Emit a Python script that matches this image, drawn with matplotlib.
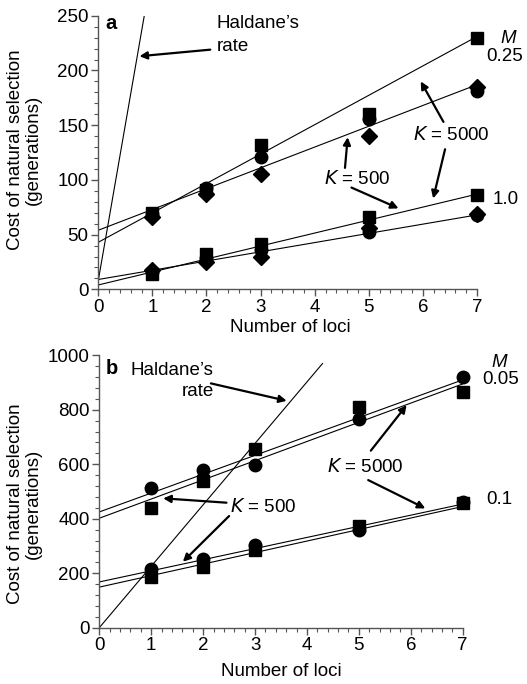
import matplotlib
matplotlib.use("Agg")
import matplotlib.pyplot as plt
from matplotlib.ticker import MultipleLocator

plt.rcParams['font.family'] = ['Liberation Sans', 'DejaVu Sans']

# ---------------- data ----------------
loci = [1, 2, 3, 5, 7]

# panel a (M = 0.25 upper group, M = 1.0 lower group)
a_sq_025 = [70, 91, 132, 160, 230]
a_ci_025 = [69, 93, 121, 156, 181]
a_di_025 = [66, 87, 105, 140, 185]
a_sq_10 = [14, 32, 41, 66, 86]
a_ci_10 = [16, 29, 36, 52, 68]
a_di_10 = [18, 25, 30, 56, 69]

# fitted lines, read at x = 0 and x = 7
line_x = [0, 7]
a_fit_025_hi = [43, 231]
a_fit_025_lo = [54, 187]
a_fit_10_hi = [4, 87]
a_fit_10_lo = [9, 68]
a_haldane_x = [0, 0.85]
a_haldane_y = [8, 250]

# panel b (M = 0.05 upper group, M = 0.1 lower group)
b_ci_005 = [512, 580, 597, 767, 921]
b_sq_005 = [438, 540, 655, 811, 866]
b_ci_01 = [215, 252, 304, 359, 460]
b_sq_01 = [187, 222, 284, 372, 459]

b_fit_005_hi = [425, 910]
b_fit_005_lo = [402, 895]
b_fit_01_hi = [168, 454]
b_fit_01_lo = [149, 445]
b_haldane_x = [0, 4.3]
b_haldane_y = [0, 970]

# ---------------- figure ----------------
fig = plt.figure(figsize=(5.27, 6.84), dpi=100)
ax_a = fig.add_axes([0.1865, 0.577, 0.7186, 0.400])
ax_b = fig.add_axes([0.1884, 0.0823, 0.6896, 0.3982])

FS = 13.5
lw_line = 0.8
arrow = dict(arrowstyle='-|>', lw=1.6, color='black', mutation_scale=11, shrinkA=0, shrinkB=0)


def style(ax, ymax, ymajor, yminor, ylab_xy, xlab_xy):
    ax.set_xlim(0, 7)
    ax.set_ylim(0, ymax)
    ax.xaxis.set_major_locator(MultipleLocator(1))
    ax.xaxis.set_minor_locator(MultipleLocator(0.2))
    ax.yaxis.set_major_locator(MultipleLocator(ymajor))
    ax.yaxis.set_minor_locator(MultipleLocator(yminor))
    for s in ['top', 'right']:
        ax.spines[s].set_visible(False)
    for s in ['left', 'bottom']:
        ax.spines[s].set_linewidth(1.0)
        ax.spines[s].set_color('#555555')
    ax.tick_params(which='major', direction='out', length=5, width=1.0, labelsize=FS, color='#555555', pad=2)
    ax.tick_params(which='minor', direction='out', length=3, width=0.8, color='#555555')
    ax.set_xlabel('Number of loci', fontsize=FS)
    ax.set_ylabel('Cost of natural selection\n(generations)', fontsize=FS, linespacing=1.05)
    ax.yaxis.set_label_coords(*ylab_xy)
    ax.xaxis.set_label_coords(*xlab_xy)
    ax.xaxis.label.set_va('center')
    ax.yaxis.label.set_va('center')


ms = dict(color='black', linestyle='none', clip_on=False, zorder=3)

# ---- panel a ----
style(ax_a, 250, 50, 10, (-0.196, 0.51), (0.506, -0.138))
for yy in [a_fit_025_hi, a_fit_025_lo, a_fit_10_hi, a_fit_10_lo]:
    ax_a.plot(line_x, yy, color='black', lw=lw_line, zorder=2)
ax_a.plot(a_haldane_x, a_haldane_y, color='black', lw=lw_line, zorder=2)
ax_a.plot(loci, a_ci_025, marker='o', markersize=9, **ms)
ax_a.plot(loci, a_di_025, marker='D', markersize=8, **ms)
ax_a.plot(loci, a_sq_025, marker='s', markersize=8.5, **ms)
ax_a.plot(loci, a_ci_10, marker='o', markersize=9, **ms)
ax_a.plot(loci, a_di_10, marker='D', markersize=8, **ms)
ax_a.plot(loci, a_sq_10, marker='s', markersize=8.5, **ms)

ax_a.text(0.13, 252, 'a', fontsize=FS + 1, fontweight='bold', va='top', ha='left')
ax_a.text(2.19, 243, "Haldane\u2019s", fontsize=FS, va='center', ha='left')
ax_a.text(2.19, 222, "rate", fontsize=FS, va='center', ha='left')
ax_a.annotate('', xy=(0.76, 213), xytext=(2.07, 219), arrowprops=arrow)
ax_a.text(7.43, 229, 'M', fontsize=FS, style='italic', va='center', ha='left', clip_on=False)
ax_a.text(7.85, 213, '0.25', fontsize=FS, va='center', ha='right', clip_on=False)
ax_a.text(7.28, 82, '1.0', fontsize=FS, va='center', ha='left', clip_on=False)

ax_a.text(6.53, 141, '$\\it{K}$ = 5000', fontsize=FS, va='center', ha='center')
ax_a.annotate('', xy=(5.96, 190), xytext=(6.38, 153), arrowprops=arrow)
ax_a.annotate('', xy=(6.19, 83), xytext=(6.41, 128), arrowprops=arrow)
ax_a.text(4.78, 101, '$\\it{K}$ = 500', fontsize=FS, va='center', ha='center')
ax_a.annotate('', xy=(4.61, 139), xytext=(4.56, 111), arrowprops=arrow)
ax_a.annotate('', xy=(5.55, 74), xytext=(4.68, 93), arrowprops=arrow)

# ---- panel b ----
style(ax_b, 1000, 200, 40, (-0.207, 0.456), (0.50, -0.16))
for yy in [b_fit_005_hi, b_fit_005_lo, b_fit_01_hi, b_fit_01_lo]:
    ax_b.plot(line_x, yy, color='black', lw=lw_line, zorder=2)
ax_b.plot(b_haldane_x, b_haldane_y, color='black', lw=lw_line, zorder=2)
ax_b.plot(loci, b_ci_005, marker='o', markersize=9, **ms)
ax_b.plot(loci, b_sq_005, marker='s', markersize=8.5, **ms)
ax_b.plot(loci, b_ci_01, marker='o', markersize=9, **ms)
ax_b.plot(loci, b_sq_01, marker='s', markersize=8.5, **ms)

ax_b.text(0.12, 950, 'b', fontsize=FS + 1, fontweight='bold', va='center', ha='left')
ax_b.text(2.2, 946, "Haldane\u2019s", fontsize=FS, va='center', ha='right')
ax_b.text(2.2, 866, "rate", fontsize=FS, va='center', ha='right')
ax_b.annotate('', xy=(3.61, 833), xytext=(2.15, 897), arrowprops=arrow)
ax_b.text(7.56, 974, 'M', fontsize=FS, style='italic', va='center', ha='left', clip_on=False)
ax_b.text(7.38, 912, '0.05', fontsize=FS, va='center', ha='left', clip_on=False)
ax_b.text(7.46, 469, '0.1', fontsize=FS, va='center', ha='left', clip_on=False)

ax_b.text(5.12, 591, '$\\it{K}$ = 5000', fontsize=FS, va='center', ha='center')
ax_b.annotate('', xy=(5.92, 817), xytext=(5.23, 650), arrowprops=arrow)
ax_b.annotate('', xy=(6.28, 438), xytext=(5.18, 542), arrowprops=arrow)
ax_b.text(3.16, 444, '$\\it{K}$ = 500', fontsize=FS, va='center', ha='center')
ax_b.annotate('', xy=(1.23, 475), xytext=(2.45, 459), arrowprops=arrow)
ax_b.annotate('', xy=(1.61, 242), xytext=(2.5, 410), arrowprops=arrow)

fig.savefig('out.png', dpi=100)
